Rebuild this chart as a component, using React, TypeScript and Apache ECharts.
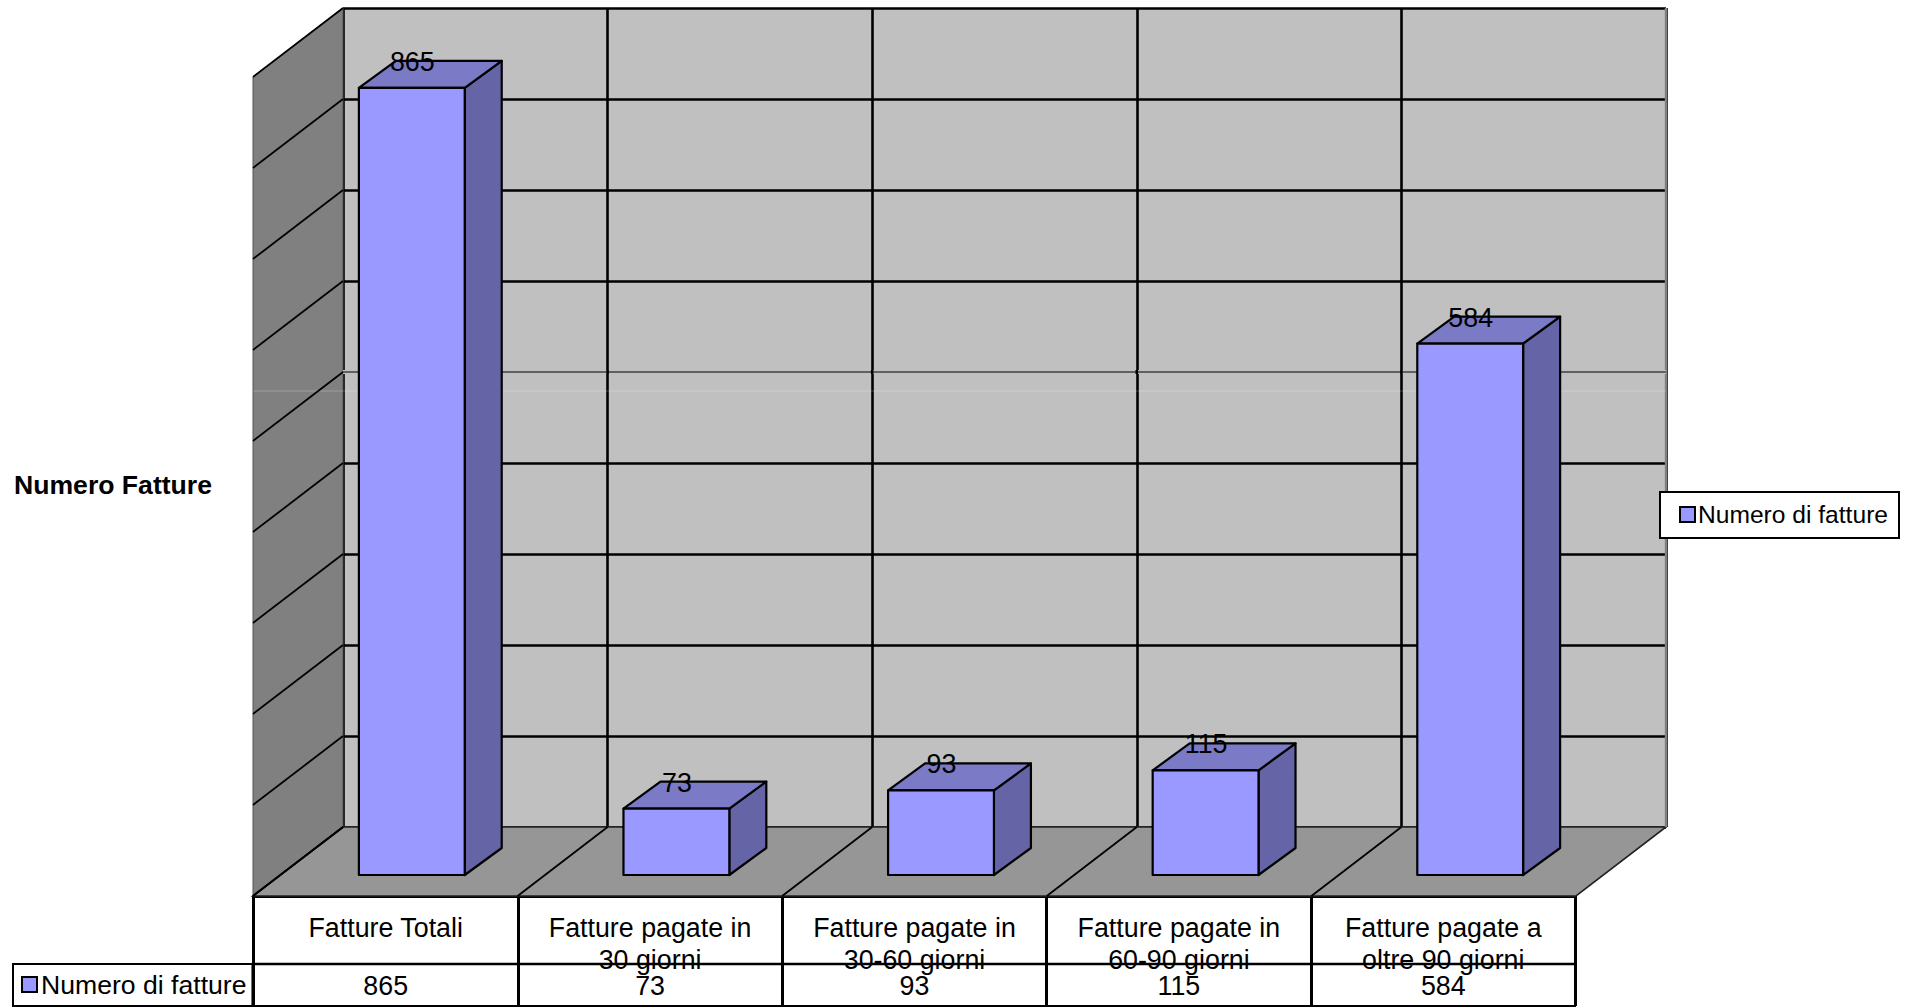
import React, { useEffect, useRef } from "react";
import * as echarts from "echarts";

const categories = [
  "Fatture Totali",
  "Fatture pagate in\n30 giorni",
  "Fatture pagate in\n30-60 giorni",
  "Fatture pagate in\n60-90 giorni",
  "Fatture pagate a\noltre 90 giorni",
];
const values = [865, 73, 93, 115, 584];
const yTicks = [0, 100, 200, 300, 400, 500, 600, 700, 800, 900];
const seriesName = "Numero di fatture";
const yTitle = "Numero Fatture";

const FONT = "'Liberation Sans', Arial, sans-serif";
const FRONT = "#9999ff";
const TOP = "#7a7ac6";
const SIDE = "#6464a6";
const WALL = "#808080";
const FLOOR = "#969696";
const BACK = "#c0c0c0";
// perspective: room depth, and where a bar's faces sit inside it
const ROOM = [-90, 69];
const BAR_FRONT = [-63.5, 48];
const BAR_BACK = [-26.5, 21];
const THIN_TICK = 500;
const SEAM_Y = 391;

const line = (x1: number, y1: number, x2: number, y2: number, stroke: string, lineWidth: number) => ({
  type: "line",
  shape: { x1, y1, x2, y2 },
  style: { stroke, lineWidth },
});

export default function App() {
  const ref = useRef<HTMLDivElement>(null);
  useEffect(() => {
    document.body.style.margin = "0";
    document.body.style.overflow = "hidden";
    const chart = echarts.init(ref.current!, undefined, { renderer: "svg" });

    const renderWall = (_p: any, api: any) => {
      const b = api.coord([0, 0]);
      const t = api.coord([0, 900]);
      const thin = api.coord([0, THIN_TICK])[1];
      const band = api.size([1, 0])[0];
      const xL = b[0] - band / 2;
      const xR = xL + band * categories.length;
      const verticals = categories.map((_, i) => xL + band * i).slice(1);
      return {
        type: "group",
        children: [
          {
            type: "polygon",
            shape: { points: [[xL, t[1]], [xL, b[1]], [xL + ROOM[0], b[1] + ROOM[1]], [xL + ROOM[0], t[1] + ROOM[1]]] },
            style: { fill: WALL, stroke: "#555555", lineWidth: 1 },
          },
          {
            type: "polygon",
            shape: { points: [[xL, b[1]], [xR, b[1]], [xR + ROOM[0], b[1] + ROOM[1]], [xL + ROOM[0], b[1] + ROOM[1]]] },
            style: { fill: FLOOR, stroke: "#222222", lineWidth: 1.6 },
          },
          line(xR, t[1], xR, b[1], "#808080", 2.4),
          // the one gridline that is hairline in the reference
          { type: "rect", shape: { x: xL, y: thin - 2, width: xR - xL, height: 4 }, style: { fill: BACK } },
          line(xL, thin, xR, thin, "#000000", 1.1),
          ...verticals.map((x) => line(x, thin - 2, x, thin + 2, "#000000", 2.6)),
          // faint light seam across the wall
          line(xL + ROOM[0], SEAM_Y, xR, SEAM_Y, "rgba(255,255,255,0.22)", 1),
        ],
      };
    };

    const renderWallLine = (_p: any, api: any) => {
      const band = api.size([1, 0])[0];
      const xL = api.coord([0, 0])[0] - band / 2;
      const y = api.coord([0, api.value(0)])[1];
      return line(xL, y, xL + ROOM[0], y + ROOM[1], "#000000", 1.8);
    };

    const renderFloorLine = (_p: any, api: any) => {
      const band = api.size([1, 0])[0];
      const c = api.coord([api.value(0), 0]);
      const x = c[0] - band / 2;
      return line(x, c[1], x + ROOM[0], c[1] + ROOM[1], "#000000", 1.8);
    };

    const renderBar = (_p: any, api: any) => {
      const cat = api.value(0);
      const val = api.value(1);
      const top = api.coord([cat, val]);
      const base = api.coord([cat, 0]);
      const w = api.size([1, 0])[0] / 2.5;
      const xF0 = top[0] + BAR_FRONT[0] - w / 2;
      const xF1 = xF0 + w;
      const yFT = top[1] + BAR_FRONT[1];
      const yFB = base[1] + BAR_FRONT[1];
      const dx = BAR_BACK[0] - BAR_FRONT[0];
      const dy = BAR_BACK[1] - BAR_FRONT[1];
      const outline = { stroke: "#000000", lineWidth: 2.2, lineJoin: "round" };
      return {
        type: "group",
        children: [
          {
            type: "polygon",
            shape: { points: [[xF1, yFT], [xF1 + dx, yFT + dy], [xF1 + dx, yFB + dy], [xF1, yFB]] },
            style: { fill: SIDE, ...outline },
          },
          {
            type: "polygon",
            shape: { points: [[xF0, yFT], [xF0 + dx, yFT + dy], [xF1 + dx, yFT + dy], [xF1, yFT]] },
            style: { fill: TOP, ...outline },
          },
          {
            type: "rect",
            shape: { x: xF0, y: yFT, width: w, height: yFB - yFT },
            style: { fill: FRONT, ...outline },
          },
          {
            type: "text",
            x: (xF0 + xF1) / 2 + 0.5,
            y: yFT + dy + 1,
            style: {
              text: String(val),
              fill: "#000000",
              font: `26.8px ${FONT}`,
              align: "center",
              verticalAlign: "middle",
            },
          },
        ],
      };
    };

    const tableAxisBase = {
      type: "category",
      axisTick: { show: false },
      axisLabel: { color: "#000000", fontFamily: FONT, fontSize: 26.8, interval: 0, lineHeight: 32 },
    };
    const hiddenY = { type: "value", show: false, min: 0, max: 1 };
    const legendBase = {
      data: [seriesName],
      orient: "horizontal",
      icon: "rect",
      itemGap: 0,
      backgroundColor: "#ffffff",
      borderColor: "#000000",
      borderWidth: 2,
      borderRadius: 0,
    };

    chart.setOption({
      animation: false,
      backgroundColor: "#ffffff",
      title: {
        text: yTitle,
        left: 14,
        top: 471,
        padding: 0,
        textStyle: { fontFamily: FONT, fontSize: 26.6, fontWeight: "bold", color: "#000000" },
      },
      legend: [
        {
          ...legendBase,
          left: 1660,
          top: 492,
          padding: [10, 11, 11, 19],
          itemWidth: 15,
          itemHeight: 15,
          textStyle: { fontFamily: FONT, fontSize: 24.6, color: "#000000", padding: [0, 0, 0, -2] },
        },
        {
          ...legendBase,
          left: 13,
          top: 964,
          padding: [7, 6, 10, 8],
          itemWidth: 15,
          itemHeight: 15,
          textStyle: { fontFamily: FONT, fontSize: 26.6, color: "#000000", padding: [0, 0, 0, -1] },
        },
      ],
      grid: [
        { left: 343, top: 8, width: 1323, height: 819, show: true, backgroundColor: BACK, borderWidth: 0 },
        { left: 253.5, top: 100, width: 1322, height: 796, show: false },
        { left: 253.5, top: 100, width: 1322, height: 864, show: false },
      ],
      xAxis: [
        {
          type: "category",
          gridIndex: 0,
          data: categories,
          axisLine: { show: false },
          axisTick: { show: false },
          axisLabel: { show: false },
          splitLine: { show: true, interval: 0, lineStyle: { color: "#000000", width: 2.6 } },
        },
        {
          ...tableAxisBase,
          gridIndex: 1,
          data: categories,
          axisLine: { show: true, lineStyle: { color: "#000000", width: 3.2 } },
          axisTick: { show: true, length: 110, alignWithLabel: false, interval: 0, lineStyle: { color: "#000000", width: 3 } },
          axisLabel: { ...tableAxisBase.axisLabel, margin: 16 },
        },
        {
          ...tableAxisBase,
          gridIndex: 2,
          data: values.map(String),
          axisLine: { show: true, lineStyle: { color: "#000000", width: 2.4 } },
          axisLabel: { ...tableAxisBase.axisLabel, margin: 6 },
        },
      ],
      yAxis: [
        {
          type: "value",
          gridIndex: 0,
          min: 0,
          max: 900,
          interval: 100,
          axisLine: { show: false },
          axisTick: { show: false },
          axisLabel: { show: false },
          splitLine: { show: true, lineStyle: { color: "#000000", width: 2.6 } },
        },
        { ...hiddenY, gridIndex: 1 },
        { ...hiddenY, gridIndex: 2 },
      ],
      graphic: [
        {
          type: "line",
          shape: { x1: 12, y1: 1006, x2: 1576, y2: 1006 },
          style: { stroke: "#000000", lineWidth: 2 },
          z: 20,
        },
      ],
      series: [
        {
          type: "custom",
          name: "wall",
          coordinateSystem: "cartesian2d",
          xAxisIndex: 0,
          yAxisIndex: 0,
          data: [[0]],
          renderItem: renderWall,
          silent: true,
          z: 1,
        },
        {
          type: "custom",
          name: "wallLines",
          coordinateSystem: "cartesian2d",
          xAxisIndex: 0,
          yAxisIndex: 0,
          data: yTicks.map((t) => [t]),
          encode: { x: -1, y: 0 },
          renderItem: renderWallLine,
          silent: true,
          z: 2,
        },
        {
          type: "custom",
          name: "floorLines",
          coordinateSystem: "cartesian2d",
          xAxisIndex: 0,
          yAxisIndex: 0,
          data: categories.map((_, i) => [i]),
          renderItem: renderFloorLine,
          silent: true,
          z: 2,
        },
        {
          type: "custom",
          name: seriesName,
          coordinateSystem: "cartesian2d",
          xAxisIndex: 0,
          yAxisIndex: 0,
          data: values.map((v, i) => [i, v]),
          encode: { x: 0, y: 1 },
          renderItem: renderBar,
          itemStyle: { color: FRONT, borderColor: "#000000", borderWidth: 2 },
          z: 5,
        },
      ],
    });
    return () => chart.dispose();
  }, []);
  return <div ref={ref} style={{ width: 1907, height: 1007 }} />;
}
